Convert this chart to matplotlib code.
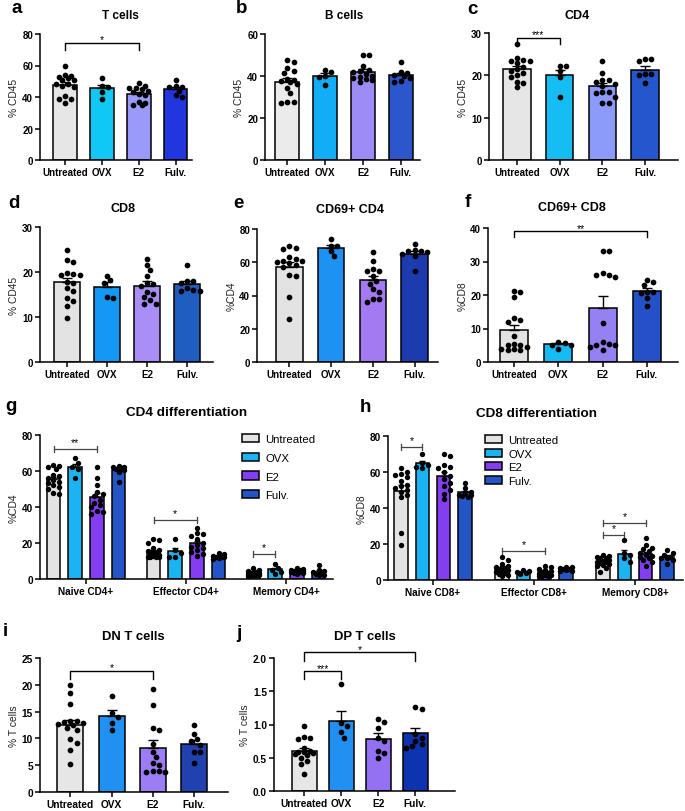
import numpy as np
import matplotlib.pyplot as plt
from matplotlib.patches import Patch

plt.rcParams['font.family'] = ['Liberation Sans', 'DejaVu Sans']

W, H = 685, 812
fig = plt.figure(figsize=(W / 100, H / 100), dpi=100)

groups = ['Untreated', 'OVX', 'E2', 'Fulv.']

# values per group: Untreated, OVX, E2, Fulv.
tcells = [
    [59.5, 54, 53.5, 53, 52, 51, 50.5, 48.5, 48, 47, 46.5, 40.5, 39, 38.5, 36.5],
    [52, 47, 46.5, 43, 39],
    [49, 47, 46, 45.5, 45, 44, 43, 42, 41, 37, 36, 35, 35],
    [51, 47, 46.5, 46.5, 44, 41, 40],
]
bcells = [
    [47.5, 46.5, 44, 42.5, 41.5, 38.5, 38, 37.5, 37, 36, 34.5, 32, 27.5, 27, 27.5],
    [43, 42, 40, 39.5, 35.5],
    [50, 50, 45, 42.5, 43, 42, 41, 40, 39.5, 39, 38.5, 38, 37],
    [46.5, 42, 41.5, 40.5, 40, 39, 37, 37.5],
]
cd4 = [
    [27.3, 24.2, 23.7, 23.5, 23.3, 22.8, 22, 21.5, 21, 20.5, 20, 19.5, 18.5, 18.2, 17.2],
    [22.3, 22.3, 21, 19.5, 15],
    [23.5, 20.5, 19, 19, 18.5, 18, 17.5, 16, 16, 15.8, 13.5, 13.5, 15],
    [23.8, 23.8, 23.3, 20.2, 20.2, 20, 18.3],
]
cd8 = [
    [25, 22.7, 22.2, 19.7, 19.5, 19.4, 19.3, 17.8, 17.5, 16.5, 15.8, 14.3, 13.5, 12.5, 9.7],
    [19.2, 18.2, 17.5, 14.4, 14.2],
    [23, 21.5, 20.5, 19.2, 17.5, 17.3, 15.5, 15.2, 14.5, 13.8, 13, 13, 17],
    [21.6, 18.1, 18, 17.5, 16.5, 16, 15.8, 15.7],
]
cd69_cd4 = [
    [70, 68.5, 68, 63, 62, 61, 60.5, 60, 59.5, 58.5, 57, 52.5, 51.5, 39, 26],
    [74, 70, 69.5, 66.5, 63.5],
    [66, 61, 56, 55, 55, 52, 49, 47, 44, 42, 38, 38, 36],
    [71, 67.5, 67, 66.5, 66, 65, 64, 54.5],
]
cd69_cd8 = [
    [21.3, 21, 19.5, 13, 12.5, 12, 7.8, 5.5, 5.2, 5, 4.5, 3.8, 3.8, 3.5, 3.7],
    [6, 5.8, 5.2, 5.2, 4],
    [33, 33, 26.5, 26, 25.5, 26, 11.5, 6, 5, 5, 4.5, 5.3, 3.5],
    [24.6, 24, 23, 21, 21, 20.5, 19, 16.7],
]
dn_t = [
    [20, 18.5, 16.5, 13.3, 13.2, 13, 12.8, 12.5, 12, 11.5, 9.8, 9.2, 7.8, 5.2, 12.6],
    [18, 14.8, 14, 12.8, 11.5],
    [19.3, 16.3, 12, 11.5, 9, 7.5, 6.5, 5, 5.5, 3.9, 3.7, 3.7, 4],
    [12.5, 10.8, 9.8, 9.5, 8.8, 7.5, 7.5, 5.4],
]
dp_t = [
    [0.97, 0.81, 0.8, 0.78, 0.64, 0.6, 0.59, 0.58, 0.57, 0.55, 0.54, 0.5, 0.45, 0.4, 0.25],
    [1.61, 1.02, 0.97, 0.88, 0.8],
    [1.09, 1.04, 0.95, 0.8, 0.75, 0.6, 0.57, 0.5],
    [1.27, 1.24, 0.85, 0.8, 0.7, 0.67, 0.65, 0.75],
]

cd4_subsets = ['Naive CD4+', 'Effector CD4+', 'Memory CD4+']
cd4_naive = [
    [63.5, 63, 62, 61, 58, 57, 56, 55, 54, 53.5, 52, 51, 50, 48, 47],
    [67, 64.5, 62.5, 61, 56],
    [62, 56, 52.5, 48.5, 47, 46, 44, 42, 41, 40, 38, 37, 36],
    [63, 62.5, 62, 61.5, 61, 60.5, 59.5, 54],
]
cd4_effector = [
    [22, 21.5, 20, 17, 16, 15.5, 15, 14.5, 14, 13.5, 13, 12.5, 12, 12, 12],
    [22, 16, 14.5, 12.5, 12],
    [28.5, 25.5, 25, 24, 22, 20, 19, 18, 17, 16, 15, 14, 13],
    [14.5, 14, 13, 12.5, 12, 12, 11.5, 11],
]
cd4_memory = [
    [6, 5, 4.5, 4, 4, 3.5, 3.5, 3, 3, 3, 2.5, 2.5, 2, 2, 1.5],
    [8.5, 6, 5, 4, 3],
    [6, 5.5, 5, 5, 4.5, 4.5, 4.5, 4, 4, 4, 3.5, 3.5, 3],
    [8, 5, 4.5, 4, 3.5, 3, 2.5, 2],
]
cd8_subsets = ['Naive CD8+', 'Effector CD8+', 'Memory CD8+']
cd8_naive = [
    [62, 60, 59, 58.5, 57, 55, 53, 52, 51, 50, 49, 47, 46, 26, 19.5],
    [70, 65, 64, 63, 62],
    [70, 69, 64, 63, 62, 60, 58, 56, 54, 52, 50, 48, 45],
    [54, 51, 49, 48, 47.5, 47, 46.5, 46],
]
cd8_effector = [
    [13, 11, 9, 8, 7.5, 7, 6.5, 6, 5.5, 5, 4.5, 4, 3.5, 3, 2.5],
    [5.5, 5, 4.5, 4, 3.5],
    [8, 7, 6, 5.5, 5, 4.5, 4, 3.5, 3, 3, 2.5, 2, 2],
    [7.5, 7, 6.5, 6, 6, 5.5, 5, 5],
]
cd8_memory = [
    [14, 13.5, 13, 12.5, 12, 11, 10.5, 10, 10, 9.5, 9, 8.5, 8, 6.5, 4.5],
    [22, 15, 14, 12, 10],
    [23.5, 19.5, 18, 17, 16, 15, 14, 13.5, 13, 12, 11, 10, 8],
    [16.5, 15, 14, 13, 12.5, 12, 11, 9],
]


def add_ax(l, t, r, b):
    return fig.add_axes([l / W, 1 - b / H, (r - l) / W, (b - t) / H])


def ftext(x, y, s, **kw):
    fig.text(x / W, 1 - y / H, s, **kw)


def swarm(vals, ppu_y, half_px, dia):
    # simple deterministic beeswarm, offsets in pixels
    vals = np.asarray(vals, float)
    order = np.argsort(-vals)
    step = dia * 0.55
    cands = [0.0]
    k = 1
    while k * step <= half_px:
        cands += [k * step, -k * step]
        k += 1
    placed = []
    offs = np.zeros(len(vals))
    for i in order:
        y = vals[i] * ppu_y
        best, best_d = 0.0, -1
        for c in cands:
            dmin = min([np.hypot(c - px, y - py) for px, py in placed], default=1e9)
            if dmin >= dia * 0.95:
                best = c
                break
            if dmin > best_d:
                best_d, best = dmin, c
        offs[i] = best
        placed.append((best, y))
    return offs


def style(ax, ylim, yticks, ytl, ylabel, fs=7):
    ax.set_ylim(*ylim)
    ax.set_yticks(yticks, labels=ytl, fontweight='bold', fontsize=fs)
    for s in ['top', 'right']:
        ax.spines[s].set_visible(False)
    for s in ['left', 'bottom']:
        ax.spines[s].set_linewidth(1.1)
    ax.tick_params(width=1.1, length=3.5, pad=1.5)
    ax.set_ylabel(ylabel, fontsize=7.4, labelpad=2, color='#222222')


def draw_bars(ax, xs, data, colors, bw, sp, ppu_y, dot, cap):
    dia = np.sqrt(dot) / 72 * 100
    for x, vals, col in zip(xs, data, colors):
        vals = np.asarray(vals, float)
        m = vals.mean()
        se = vals.std(ddof=1) / np.sqrt(len(vals))
        ax.bar(x, m, width=bw / sp, color=col, edgecolor='black', linewidth=1.1, zorder=2)
        ax.errorbar(x, m, yerr=[[0], [se]], color='black', capsize=cap,
                    elinewidth=1, capthick=1, zorder=3)
        offs = swarm(vals, ppu_y, bw / 2, dia)
        ax.scatter(x + offs / sp, vals, s=dot, color='black', zorder=4,
                   linewidths=0, clip_on=False)


def bracket(ax, x1, x2, y, h, txt, fs=7.5, dy=0.0):
    ax.plot([x1, x1, x2, x2], [y - h, y, y, y - h], color='black', lw=1, clip_on=False)
    ax.text((x1 + x2) / 2, y + dy, txt, ha='center', va='bottom', fontsize=fs, clip_on=False)


def bar_panel(box, data, colors, c0, sp, bw, ylim, yticks, ytl, ylabel, tfs=7):
    l, t, r, b = box
    ax = add_ax(l, t, r, b)
    ppu_y = (b - t) / (ylim[1] - ylim[0])
    draw_bars(ax, np.arange(4), data, colors, bw, sp, ppu_y, 17, 3.8)
    ax.set_xlim((l - c0) / sp, (r - c0) / sp)
    ax.set_xticks(np.arange(4), labels=groups, fontweight='bold', fontsize=tfs)
    style(ax, ylim, yticks, ytl, ylabel, fs=tfs)
    return ax


def diff_panel(box, subsets, data, colors, g0, gsp, off, bw, ylabel):
    l, t, r, b = box
    ax = add_ax(l, t, r, b)
    ppu_y = (b - t) / 80
    for g, d in enumerate(data):
        xs = g + (np.arange(4) - 1.5) * off
        draw_bars(ax, xs, d, colors, bw, gsp, ppu_y, 15, 2.2)
    ax.set_xlim((l - g0) / gsp, (r - g0) / gsp)
    ax.set_xticks(np.arange(3), labels=subsets, fontweight='bold', fontsize=7.2)
    style(ax, (0, 80), [0, 20, 40, 60, 80], ['0', '20', '40', '60', '80'], ylabel, fs=7.2)
    return ax


def sig_line(ax, x1, x2, y, txt):
    ax.plot([x1, x2], [y, y], color='#444444', lw=0.9, clip_on=False)
    for x in (x1, x2):
        ax.plot([x, x], [y - 1.6, y + 1.6], color='#444444', lw=0.9, clip_on=False)
    ax.text((x1 + x2) / 2, y + 1.0, txt, ha='center', va='bottom', fontsize=7.5)


tfont = dict(ha='center', va='center', fontweight='bold')
lfont = dict(ha='left', va='baseline', fontweight='bold', fontsize=13.5)

# ---- row 1
ax = bar_panel((40, 35, 192, 161), tcells, ['#E6E6E6', '#0FC8F5', '#9A9AFA', '#2136DC'],
               65, 36.9, 23.5, (0, 80), [0, 20, 40, 60, 80], ['0', '20', '40', '60', '80'], '% CD45')
bracket(ax, 0, 2, 74, 4, '*', dy=-0.5)
ftext(120, 16, 'T cells', fontsize=8.5, **tfont)
ftext(11, 13, 'a', **lfont)

ax = bar_panel((265, 35, 420, 161), bcells, ['#EBEBEB', '#12AEF5', '#9D8CF5', '#2B56CC'],
               287.3, 37.8, 24, (0, 60), [0, 20, 40, 60], ['0', '20', '40', '60'], '% CD45')
ftext(344, 16, 'B cells', fontsize=8.5, **tfont)
ftext(236, 13, 'b', **lfont)

ax = bar_panel((489, 34, 678, 161), cd4, ['#E6E6E6', '#16BDF2', '#8C9AFA', '#2656CC'],
               517, 42.7, 27.5, (0, 30), [0, 10, 20, 30], ['0', '10', '20', '30'], '% CD45')
bracket(ax, 0, 1, 28.8, 1.4, '***', dy=-0.3)
ftext(577, 16, 'CD4', fontsize=9, **tfont)
ftext(467, 14, 'c', **lfont)

# ---- row 2
ax = bar_panel((40, 228, 213, 363), cd8, ['#E3E3E3', '#1598F5', '#A88EF5', '#1F5EC0'],
               67, 40, 26, (0, 30), [0, 10, 20, 30], ['0', '10', '20', '30'], '% CD45')
ftext(123, 209, 'CD8', fontsize=9, **tfont)
ftext(8, 208, 'd', **lfont)

ax = bar_panel((257, 230, 438, 363), cd69_cd4, ['#E3E3E3', '#1D92F2', '#A47AF2', '#1B3BAE'],
               289.3, 41.8, 26.5, (0, 80), [0, 20, 40, 60, 80], ['0', '20', '40', '60', '80'], '%CD4')
ftext(350, 210, 'CD69+ CD4', fontsize=9, **tfont)
ftext(233, 208, 'e', **lfont)

ax = bar_panel((488, 229, 678, 363), cd69_cd8, ['#E3E3E3', '#14BBF5', '#9581F2', '#2451C8'],
               514, 44.3, 28, (0, 40), [0, 10, 20, 30, 40], ['0', '10', '20', '30', '40'], '%CD8')
bracket(ax, 0, 3, 39, 1.8, '**', dy=-0.4)
ftext(572, 208, 'CD69+ CD8', fontsize=9, **tfont)
ftext(465, 207, 'f', **lfont)

# ---- row 3
gcols = ['#E3E3E3', '#1BB4F2', '#843EF2', '#2355C6']
ax = diff_panel((40, 436, 333, 580), cd4_subsets, [cd4_naive, cd4_effector, cd4_memory],
                gcols, 86, 100, 0.217, 13.5, '%CD4')
sig_line(ax, -0.325, 0.108, 72.3, '**')
sig_line(ax, 1 - 0.325, 1 + 0.108, 32.9, '*')
sig_line(ax, 2 - 0.325, 2 - 0.108, 13.7, '*')
handles = [Patch(facecolor=c, edgecolor='black', linewidth=1.1) for c in gcols]
ax.legend(handles, groups, loc='upper left', bbox_to_anchor=(242 / W, 1 - 435 / H),
          bbox_transform=fig.transFigure, frameon=False, fontsize=8.2,
          handlelength=1.45, handleheight=0.75, handletextpad=0.6, labelspacing=0.75,
          borderpad=0, borderaxespad=0)
ftext(187, 413, 'CD4 differentiation', fontsize=9.7, **tfont)
ftext(5, 411, 'g', **lfont)

ax = diff_panel((388, 437, 683, 581), cd8_subsets, [cd8_naive, cd8_effector, cd8_memory],
                gcols, 433, 101, 0.21, 13.5, '%CD8')
sig_line(ax, -0.315, -0.105, 73.9, '*')
sig_line(ax, 1 - 0.315, 1 + 0.105, 16.1, '*')
sig_line(ax, 2 - 0.315, 2 - 0.105, 24.8, '*')
sig_line(ax, 2 - 0.315, 2 + 0.105, 31.7, '*')
ax.legend(handles, groups, loc='upper left', bbox_to_anchor=(485 / W, 1 - 436 / H),
          bbox_transform=fig.transFigure, frameon=False, fontsize=8.2,
          handlelength=1.45, handleheight=0.75, handletextpad=0.6, labelspacing=0.3,
          borderpad=0, borderaxespad=0)
ftext(537, 414, 'CD8 differentiation', fontsize=9.7, **tfont)
ftext(360, 412, 'h', **lfont)

# ---- row 4
ax = bar_panel((40, 659, 228, 793), dn_t, ['#E6E6E6', '#2091F2', '#9D7DF5', '#2142AE'],
               70.3, 41.2, 26, (0, 25), [0, 5, 10, 15, 20, 25], ['0', '5', '10', '15', '20', '25'],
               '% T cells', tfs=7.3)
bracket(ax, 0, 2, 22.6, 1.5, '*', dy=-0.3)
ftext(133, 637, 'DN T cells', fontsize=9.4, **tfont)
ftext(3, 636, 'i', **lfont)

ax = bar_panel((274, 659, 455, 792), dp_t, ['#E6E6E6', '#2290F2', '#9470F2', '#0D33B0'],
               304, 37.1, 25, (0, 2.0), [0, 0.5, 1.0, 1.5, 2.0], ['0.0', '0.5', '1.0', '1.5', '2.0'],
               '% T cells', tfs=7.3)
bracket(ax, 0, 1, 1.80, 0.11, '***', dy=-0.03)
bracket(ax, 0, 3, 2.09, 0.13, '*', dy=-0.03)
ftext(365, 637, 'DP T cells', fontsize=9.4, **tfont)
ftext(236, 638, 'j', **lfont)

fig.savefig('out.png', dpi=100)
